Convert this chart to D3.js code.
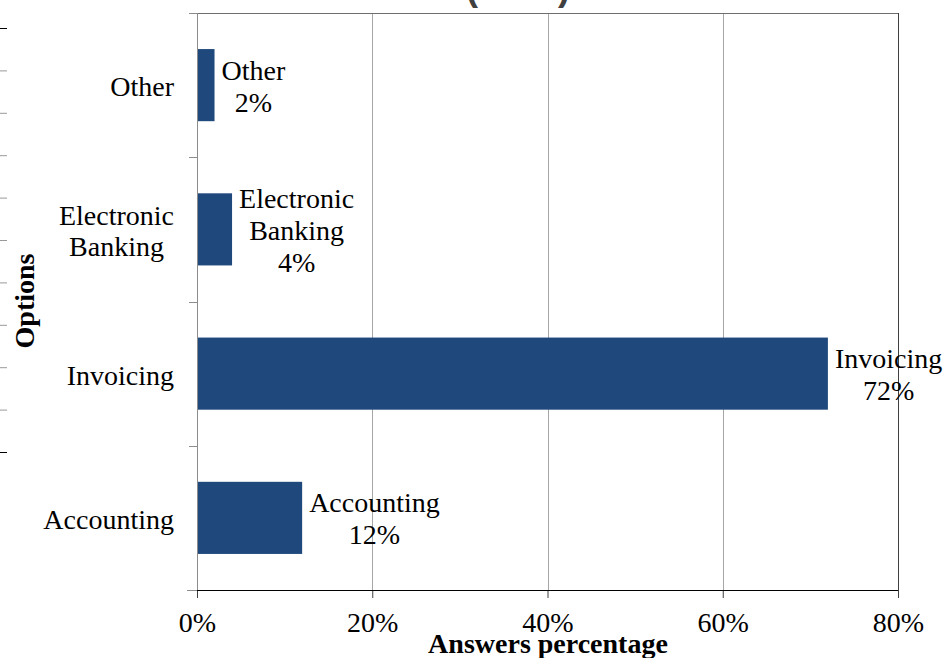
<!DOCTYPE html>
<html>
<head>
<meta charset="utf-8">
<script src="https://cdn.jsdelivr.net/npm/d3@7"></script>
<style>
  body { margin: 0; background: #fff; }
  svg { display: block; }
  text { font-family: "Liberation Serif", "Times New Roman", serif; fill: #000; }
</style>
</head>
<body>
<div id="chart_area"></div>
<script>
// categories (bottom to top as in the picture) and their answer shares
var options = ["Accounting", "Invoicing", "Electronic Banking", "Other"];
var optionLines = [["Accounting"], ["Invoicing"], ["Electronic", "Banking"], ["Other"]];
var shares = [12, 72, 4, 2];
var xTicks = [0, 20, 40, 60, 80];
var strayTicks = d3.range(0, 11); // tick marks of the neighbouring chart on the left edge

var frame_width = 946, frame_height = 658;
var margin = {top: 13, right: 48, bottom: 68, left: 197};
var canvas_width = frame_width - margin.left - margin.right;
var canvas_height = frame_height - margin.top - margin.bottom;

var frame = d3.select("#chart_area").append("svg")
	.attr("width", frame_width)
	.attr("height", frame_height);

// cut-off title above the chart
frame.append("text")
	.attr("x", 518).attr("y", 0)
	.attr("text-anchor", "middle")
	.style("font-family", "'Liberation Sans', Arial, sans-serif")
	.style("font-weight", "bold")
	.style("font-size", "36px")
	.style("fill", "#404040")
	.attr("xml:space", "preserve")
	.text("(        )");

// stray ticks at the left border
var strayScale = d3.scaleLinear().domain([0, 10]).range([28, 452]);
frame.selectAll(".stray").data(strayTicks).enter().append("line")
	.attr("x1", 0).attr("x2", 7)
	.attr("y1", function(d) { return strayScale(d) + 0.5; })
	.attr("y2", function(d) { return strayScale(d) + 0.5; })
	.attr("stroke", function(d) { return (d == 0 || d == 10) ? "#000" : "#999"; })
	.attr("stroke-width", 1);

var canvas = frame.append("g")
	.attr("transform", "translate(" + margin.left + "," + margin.top + ")");

var xScale = d3.scaleLinear().domain([0, 80]).range([0, canvas_width]);
var yScale = d3.scaleBand().domain(options).range([canvas_height, 0]).paddingInner(0.5).paddingOuter(0.25);
var yEdges = d3.scaleLinear().domain([0, options.length]).range([canvas_height, 0]);

// gridlines
canvas.selectAll(".grid").data(xTicks.slice(1, -1)).enter().append("line")
	.attr("x1", function(d) { return Math.round(xScale(d)) + 0.5; })
	.attr("x2", function(d) { return Math.round(xScale(d)) + 0.5; })
	.attr("y1", 0).attr("y2", canvas_height)
	.attr("stroke", "#a6a6a6");

// top and right border
canvas.append("line").attr("x1", 0).attr("x2", canvas_width).attr("y1", 0.5).attr("y2", 0.5).attr("stroke", "#6e6e6e");
canvas.append("line").attr("x1", canvas_width + 0.5).attr("x2", canvas_width + 0.5).attr("y1", 0).attr("y2", canvas_height).attr("stroke", "#404040");

// bars
canvas.selectAll(".bar").data(options).enter().append("rect")
	.attr("class", "bar")
	.attr("x", 0)
	.attr("y", function(d) { return yScale(d); })
	.attr("width", function(d, i) { return xScale(shares[i]); })
	.attr("height", yScale.bandwidth())
	.attr("fill", "#1f497d");

// left axis line with category ticks
canvas.append("line").attr("x1", 0.5).attr("x2", 0.5).attr("y1", 0).attr("y2", canvas_height).attr("stroke", "#8c8c8c");
canvas.selectAll(".ytick").data(d3.range(0, options.length + 1)).enter().append("line")
	.attr("x1", -8).attr("x2", 0)
	.attr("y1", function(d) { return Math.round(yEdges(d)) + 0.5; })
	.attr("y2", function(d) { return Math.round(yEdges(d)) + 0.5; })
	.attr("stroke", "#8c8c8c");

// bottom axis
var xAxis = d3.axisBottom(xScale).tickValues(xTicks).tickSize(8).tickPadding(14)
	.tickFormat(function(d) { return d + "%"; });
var xg = canvas.append("g").attr("transform", "translate(0," + canvas_height + ")").call(xAxis);
xg.select(".domain").remove();
xg.append("line").attr("x1", -10).attr("x2", 0).attr("y1", 0.5).attr("y2", 0.5).attr("stroke", "#8c8c8c");
xg.append("line").attr("x1", 0).attr("x2", canvas_width).attr("y1", 0.5).attr("y2", 0.5).attr("stroke", "#000");
xg.selectAll(".tick line").attr("stroke", "#404040");
xg.selectAll(".tick text")
	.style("font-family", "'Liberation Serif', 'Times New Roman', serif")
	.style("font-size", "28px")
	.attr("fill", "#000");

// category labels
optionLines.forEach(function(lines, i) {
	var cy = yScale(options[i]) + yScale.bandwidth() / 2;
	var t = canvas.append("text").attr("text-anchor", "middle").style("font-size", "28px");
	lines.forEach(function(l, j) {
		t.append("tspan").attr("y", cy + 11 + (j - (lines.length - 1) / 2) * 31).text(l);
	});
	var w = 0;
	t.selectAll("tspan").each(function() { w = Math.max(w, this.getComputedTextLength()); });
	t.selectAll("tspan").attr("x", -23 - w / 2);
});

// data labels
optionLines.forEach(function(lines, i) {
	var cy = yScale(options[i]) + yScale.bandwidth() / 2;
	var all = lines.concat([shares[i] + "%"]);
	var t = canvas.append("text").attr("text-anchor", "middle").style("font-size", "28px");
	all.forEach(function(l, j) {
		t.append("tspan").attr("y", cy + 10.5 + (j - (all.length - 1) / 2) * 32).text(l);
	});
	var w = 0;
	t.selectAll("tspan").each(function() { w = Math.max(w, this.getComputedTextLength()); });
	t.selectAll("tspan").attr("x", xScale(shares[i]) + 7 + w / 2);
});

// axis titles
frame.append("text")
	.attr("x", 548).attr("y", 653)
	.attr("text-anchor", "middle")
	.style("font-weight", "bold").style("font-size", "28px")
	.text("Answers percentage");
frame.append("text")
	.attr("transform", "translate(34,301) rotate(-90)")
	.attr("text-anchor", "middle")
	.style("font-weight", "bold").style("font-size", "28px")
	.text("Options");
</script>
</body>
</html>
